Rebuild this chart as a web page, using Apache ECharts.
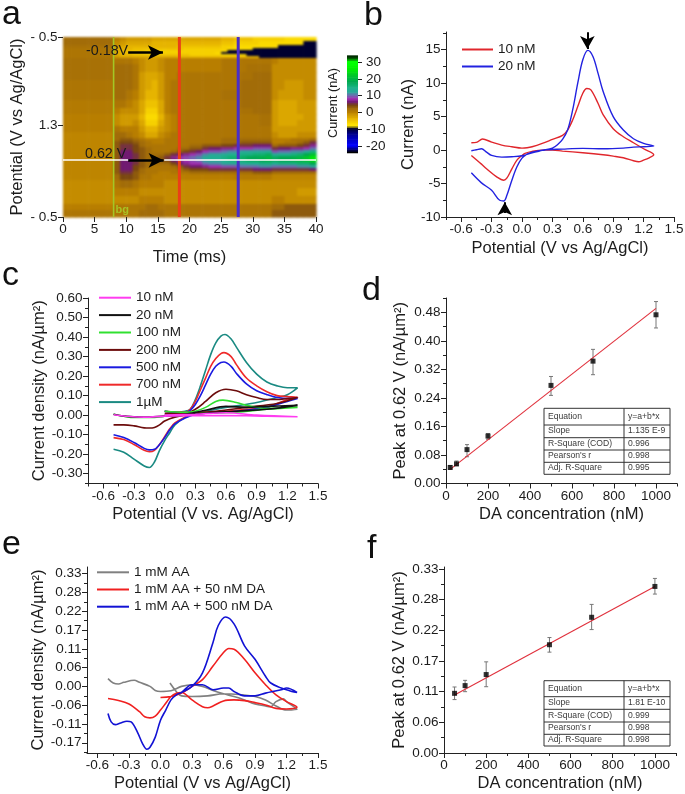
<!DOCTYPE html>
<html><head><meta charset="utf-8">
<style>html,body{margin:0;padding:0;background:#fff}
#heat,#c{position:absolute;left:0;top:0;width:685px;height:794px}
#heat{filter:blur(1.2px)}</style>
<script src="https://cdn.jsdelivr.net/npm/echarts@6/dist/echarts.min.js"></script>
</head><body><div id="heat"></div><div id="c"></div>
<script>
// ---------- panel a: time / sweep-position / current table ----------
const sweepEdges=[0,.08,.16,.22,.26,.30,.34,.38,.42,.54,.70,.86,1.06,1.26,1.42,1.54,1.66,1.78,1.90,2.02,2.08,2.14,2.20,2.26,2.32,2.38,2.44,2.50,2.56,2.62,2.68,2.74,2.86,3.02,3.18,3.34,3.46,3.60];
const currentTable=[
[2,2,2,2,2,2,2,2,0,-1,-2,-2,-2,-2,-3,-3,-3,-3,-3,-3,-3,-3,-3,-3,-3,-4,-4,-5,-5,-5,-6,-6,-6,-6,-6,-7,-7,-7,-7,-7],
[2,2,2,2,2,2,2,2,-1,-2,-3,-3,-3,-3,-4,-4,-4,-4,-4,-4,-4,-4,-4,-4,-4,-5,-5,-6,-6,-6,-6,-7,-7,-7,-7,-7,-7,-7,-10,-10],
[1.5,1.5,1.5,1.5,1.5,1.5,1.5,1.5,-2,-3,-4,-4,-4,-4,-4,-4,-4,-4,-5,-5,-5,-5,-5,-5,-5,-6,-6,-7,-7,-7,-7,-7,-7,-7,-10,-10,-10,-10,-10,-10],
[1,1,1,1,1,1,1,1,-3,-4,-4,-5,-5,-5,-5,-5,-5,-5,-5,-6,-6,-6,-6,-6,-6,-6,-7,-7,-7,-7,-10,-10,-10,-10,-10,-10,-10,-10,-10,-10],
[1,1,1,1,1,1,1,1,-3,-4,-5,-5,-5,-6,-6,-6,-6,-6,-6,-6,-6,-6,-6,-6,-6,-7,-10,-10,-10,-10,-10,-10,-10,-10,-10,-10,-10,-10,-10,-10],
[1,1,1,1,1,1,1,1,-3,-4,-5,-5,-5,-6,-6,-6,-6,-6,-6,-6,-6,-6,-6,-6,-7,-10,-10,-10,-10,-10,-10,-10,-10,-10,-10,-10,-10,-10,-10,-10],
[1,1,1,1,1,1,1,1,-3,-4,-4,-5,-5,-5,-5,-5,-5,-5,-5,-5,-6,-6,-6,-6,-6,-7,-7,-7,-7,-10,-10,-10,-10,-10,-10,-10,-10,-10,-10,-10],
[1,1,1,1,1,1,1,1,-2,-3,-3,-3,-3,-3,-3,-3,-3,-3,-4,-4,-4,-4,-4,-4,-4,-4,-4,-4,-4,-4,-4,-10,-10,-10,-10,-10,-10,-10,-10,-10],
[1.5,1.5,1.5,1.5,1.5,1.5,1.5,1.5,1,1,1,0,-1,-2,-2,-1,0,0,0,0,0,0,0,0,0,1,1,1,1,1,1,1,1,0,-1,-1,-1,-1,-1,-1],
[1.5,1.5,1.5,1.5,1.5,1.5,1.5,1.5,2,2,2,1,-1,-2,-2,-1,0,0,0,0,0,0,0,0,0,1,1,1,1,1.5,1.5,1.5,1.5,-1,-1,-1,-1,-1,-1,-1],
[1.5,1.5,1.5,1.5,1.5,1.5,1.5,1.5,2,2,2,1,-2,-3,-3,-2,0,0,1,1,1,1,1,1,1,1,1,1,1.5,1.5,2,2,2,-1,-1,-1,-1,-1,-1,-1],
[1,1,1,1,1,1,1,1,2,2,2,1,-2,-3,-4,-2,0,1,1,1,1,1,1,1,1,1,1,1,2,2,2,2,2,-1,-1,-2,-2,-2,-1,-1],
[1,1,1,1,1,1,1,1,2,2,1,0,-2,-4,-4,-2,0,1,1,1,1,1,1,1,1,1.5,1.5,1.5,2,2,2,2,2,-1,-2,-2,-2,-2,-1,-1],
[.5,.5,.5,.5,.5,.5,.5,.5,1,1,0,-1,-3,-5,-5,-3,0,1,1,1,1,1,1,1,1,1,1,1,2,2,2,2,2,-2,-3,-3,-3,-2,-2,-2],
[.5,.5,.5,.5,.5,.5,.5,.5,0,-1,-1,-1,-3,-6,-6,-3,0,1,1,1,1,1,1,1,1,1,1,1,1.5,1.5,2,2,2,-2,-3,-3,-3,-2,-2,-2],
[0,0,0,0,0,0,0,0,-1,-2,-2,-2,-4,-7,-7,-4,-1,0,1,1,1,1,1,1,1,1,1,1,1,1,1,1.5,1.5,-2,-3,-3,-3,-3,-2,-2],
[0,0,0,0,0,0,0,0,-1,-2,-2,-1,-3,-6,-6,-3,-1,0,1,1,1,1,1,1,1,1,1,1,1,1,1,1.5,1.5,-2,-3,-3,-3,-2,-2,-2],
[0,0,0,0,0,0,0,0,1,0,0,0,-2,-4,-4,-2,-1,0,1,1,1,1,1,1,1,1,1,1,1,1,1,1,1,-2,-2,-2,-2,-2,-2,-2],
[-.5,-.5,-.5,-.5,-.5,-.5,-.5,-.5,2,2,1,0,-1,-3,-3,-1,0,1,1,1,1,1,1,1,1,1,1,1,1,1,1,1,1,-1,-2,-2,-2,-1,-1,-1],
[-.5,-.5,-.5,-.5,-.5,-.5,-.5,-.5,2,3,3,2,1,0,0,0,1,1,1,1,1,1,1,1,1,2,2,2,2,2,2,2,2,0,0,0,1,1,1,2],
[-.5,-.5,-.5,-.5,-.5,-.5,-.5,-.5,3,4,4,3,2,1,0,0,1,1,1,1,1,1,1,1,1,2,2,2,3,3,3,3,3,0,0,1,1,2,3,5],
[-.5,-.5,-.5,-.5,-.5,-.5,-.5,-.5,3,5,5,4,2,1,1,1,1,1,1,1,2,2,3,3,3,4,4,5,5,5,6,6,6,2,3,3,3,4,5,7],
[-.5,-.5,-.5,-.5,-.5,-.5,-.5,-.5,3,5,5,4,3,2,1,1,1,1,2,2,3,3,5,6,6,7,7,8,8,8,9,9,9,5,6,6,7,7,8,10],
[-.5,-.5,-.5,-.5,-.5,-.5,-.5,-.5,3,6,6,4,3,2,1,1,1,2,3,4,5,6,8,9,9,10,11,11,12,12,12,12,13,9,10,10,11,11,12,15],
[-.5,-.5,-.5,-.5,-.5,-.5,-.5,-.5,3,6,6,5,3,2,2,2,3,5,6,7,8,9,11,12,12,13,14,14,15,15,16,16,17,13,14,14,15,16,18,21],
[-.5,-.5,-.5,-.5,-.5,-.5,-.5,-.5,3,6,6,5,3,2,2,3,5,7,8,9,10,11,13,14,14,15,16,16,17,18,18,19,20,17,18,18,19,20,22,25],
[-.5,-.5,-.5,-.5,-.5,-.5,-.5,-.5,3,6,6,5,3,2,2,3,4,6,7,8,9,10,12,13,13,14,15,15,16,17,17,18,19,17,18,18,19,20,21,24],
[-.5,-.5,-.5,-.5,-.5,-.5,-.5,-.5,3,6,6,5,3,2,2,2,2,4,6,7,8,8,10,11,11,12,12,13,13,14,14,15,15,14,15,15,15,16,16,18],
[-.5,-.5,-.5,-.5,-.5,-.5,-.5,-.5,3,6,6,4,3,2,1,1,1,2,3,5,6,6,7,8,8,9,9,9,10,10,10,11,11,10,10,10,10,11,11,12],
[-.5,-.5,-.5,-.5,-.5,-.5,-.5,-.5,3,6,6,4,2,1,1,1,1,1,2,3,4,4,4,5,5,5,5,5,5,5,6,6,6,5,5,5,5,5,5,6],
[-.5,-.5,-.5,-.5,-.5,-.5,-.5,-.5,3,5,5,3,2,1,1,0,0,1,1,1,2,2,2,2,2,2,2,2,2,2,3,3,3,2,2,2,2,2,2,2],
[-.5,-.5,-.5,-.5,-.5,-.5,-.5,-.5,2,4,4,3,1,1,0,0,0,0,0,0,0,0,0,0,0,0,0,.5,.5,.5,.5,.5,.5,-.5,-.5,-.5,-.5,-.5,-.5,-.5],
[-1,-1,-1,-1,-1,-1,-1,-1,1,2,2,1,0,0,0,0,-1,-1,-1,-1,-1,-1,-1,-1,-1,-1,-1,-1,-1,-1,-1,-1,-1,-1,-1,-1,-1,-1,-1,-1],
[-1,-1,-1,-1,-1,-1,-1,-1,0,0,0,0,-1,-1,-1,-1,-1,-1,-1,-1,-1,-1,-1,-1,-1,-1,-1,-1,-1,-1,-1,-1,-1,-1,-1,-1,-1,-2,-2,-2],
[-1,-1,-1,-1,-1,-1,-1,-1,-1,-1,-1,-1,0,0,0,0,-1,-1,-1,-1,-1,-1,-1,-1,-1,-1,-1,-1,-1,-1,-1,-1,-1,0,0,-1,-1,-1,-1,-1],
[0,0,0,0,0,0,0,0,1,1,1,1,1,2,2,1,1,1,1,1,1,1,1,1,1,1,1,1,1,1,1,1,1,2,2,3,3,3,3,3],
[1,1,1,1,1,1,1,1,1,1,1,1,2,2,2,2,1,1,1,1,1,1,1,1,1,1,1,1,1,1,1,1,1,3,3,3,3,3,3,3]];
const colorbarValues=[-24,-23,-22,-21,-20,-19,-18,-17,-16,-15,-14,-13,-12,-11,-10,-9,-8,-7,-6,-5,-4,-3,-2,-1,0,1,2,3,4,5,6,7,8,9,10,11,12,13,14,15,16,17,18,19,20,21,22,23,24,25,26,27,28,29,30,31,32,33];
const colorbarTicks=[30,20,10,0,-10,-20];
const currentColors=['#000000','#00008a','#0000ff','#0000e0','#0000c0','#0000a0','#000070','#000030','#ffe400','#f6d000','#e6b400','#d09a00','#b87e00','#a26c08','#7a4810','#701a70','#a030b0','#6a70b0','#2aa898','#20b090','#10b070','#00a850','#00b840','#00c828','#00e010','#00f000','#00ff00','#00ff00','#005a00','#000000'];
const aTimeTicks=[0,5,10,15,20,25,30,35,40];
const aSweepTicks=[0,1.76,3.6];
const aSweepLabels=['- 0.5','1.3','- 0.5'];
const markerBg=8, markerRed=18.4, markerBlue=27.7, sweepAt062=2.46;

// ---------- panel b ----------
const b10nM=[[-.5,1.1],[-.45,1.15],[-.39,1.65],[-.3,1.2],[-.2,.75],[-.1,.5],[0,.3],[.05,.35],[.1,.5],[.2,1],[.3,1.6],[.4,2.2],[.45,3],[.5,4.5],[.55,6.5],[.6,8.5],[.64,9.2],[.68,9],[.75,7],[.8,5.3],[.9,3.2],[1,2],[1.1,1.1],[1.2,.2],[1.3,-.7],[1.25,-1.2],[1.2,-1.5],[1.15,-1.75],[1.1,-1.6],[1,-1.15],[.9,-.9],[.8,-.7],[.6,-.4],[.4,-.15],[.3,0],[.2,0],[.1,-.2],[.03,-.5],[0,-.8],[-.05,-1.5],[-.1,-2.8],[-.15,-4.2],[-.18,-4.5],[-.25,-4],[-.35,-2.8],[-.4,-2.1],[-.5,-.8]];
const b20nM=[[-.5,-.1],[-.45,.05],[-.4,.2],[-.35,-.3],[-.3,-.8],[-.2,-1.05],[-.1,-1],[0,-.85],[.1,-.4],[.2,-.05],[.3,.3],[.35,.8],[.4,1.6],[.45,3],[.5,6],[.55,10],[.6,13.5],[.65,14.9],[.7,14],[.75,11.5],[.8,8.8],[.9,5],[1,3],[1.1,1.7],[1.2,1],[1.3,.6],[1.2,.5],[1.1,.45],[1,.3],[.8,.2],[.6,.25],[.4,.15],[.2,0],[.1,-.3],[.05,-.6],[0,-1.2],[-.05,-2.5],[-.1,-4.5],[-.15,-6.8],[-.18,-7.6],[-.22,-7.5],[-.3,-6],[-.4,-4.9],[-.5,-3.4]];

// ---------- panel c ----------
const c1uM=[[0,.02],[.1,.015],[.2,.02],[.25,.03],[.3,.08],[.35,.15],[.4,.23],[.45,.31],[.5,.37],[.55,.405],[.59,.413],[.65,.39],[.7,.35],[.8,.27],[.9,.21],[1,.17],[1.1,.15],[1.2,.14],[1.3,.14],[1.2,.105],[1.1,.09],[.83,.058],[.6,.04],[.4,.02],[.3,.012],[.2,-.01],[.1,-.05],[.05,-.09],[0,-.13],[-.05,-.18],[-.1,-.24],[-.15,-.268],[-.2,-.26],[-.3,-.225],[-.4,-.19],[-.5,-.175]];
const c700nM=[[0,.02],[.2,.015],[.25,.03],[.3,.07],[.35,.13],[.4,.19],[.45,.25],[.5,.29],[.55,.315],[.58,.32],[.65,.3],[.7,.26],[.8,.19],[.9,.15],[1,.12],[1.1,.1],[1.2,.095],[1.3,.09],[1.2,.08],[1,.04],[.8,.03],[.6,.02],[.4,.015],[.3,.01],[.2,-.01],[.1,-.04],[.05,-.07],[0,-.11],[-.05,-.15],[-.1,-.18],[-.15,-.187],[-.2,-.18],[-.3,-.15],[-.4,-.125],[-.5,-.115]];
const c500nM=[[0,.02],[.2,.012],[.25,.025],[.3,.055],[.35,.1],[.4,.155],[.45,.21],[.5,.25],[.55,.27],[.58,.272],[.65,.25],[.7,.215],[.8,.16],[.9,.125],[1,.105],[1.1,.09],[1.2,.085],[1.3,.085],[1.2,.07],[1,.04],[.8,.025],[.6,.015],[.4,.01],[.3,.005],[.2,-.015],[.1,-.045],[.05,-.075],[0,-.115],[-.05,-.15],[-.1,-.175],[-.15,-.178],[-.2,-.17],[-.3,-.14],[-.4,-.115],[-.5,-.1]];
const c200nM=[[0,.01],[.2,.01],[.3,.03],[.4,.07],[.5,.115],[.6,.133],[.7,.125],[.8,.105],[.9,.09],[1,.08],[1.1,.08],[1.2,.085],[1.3,.09],[1.1,.06],[.8,.04],[.5,.02],[.3,.01],[.1,-.01],[0,-.03],[-.05,-.05],[-.1,-.063],[-.15,-.066],[-.2,-.065],[-.3,-.055],[-.4,-.05],[-.5,-.05]];
const c100nM=[[0,.02],[.2,.015],[.3,.02],[.4,.04],[.5,.07],[.57,.077],[.7,.065],[.8,.05],[.9,.04],[1,.035],[1.3,.04],[1,.03],[.7,.015],[.4,.01],[.2,0],[0,-.005],[-.1,-.012],[-.3,-.012],[-.4,-.005],[-.5,.005]];
const c20nM=[[0,0],[.2,.005],[.4,.025],[.6,.045],[.8,.04],[1,.045],[1.3,.05],[1,.03],[.7,.02],[.4,.01],[.2,0],[0,-.005],[-.2,-.01],[-.4,-.005],[-.5,.005]];
const c10nM=[[0,0],[.3,.005],[.6,.012],[.9,0],[1.3,-.008],[1,-.005],[.6,-.002],[.3,-.003],[0,-.005],[-.2,-.01],[-.4,-.004],[-.5,.002]];

// ---------- panel d ----------
const dConc=[20,50,100,200,500,700,1000];
const dPeak=[.045,.055,.095,.133,.275,.343,.473];
const dLow=[.04,.05,.075,.124,.247,.305,.436];
const dHigh=[.05,.063,.109,.14,.30,.376,.51];
const dFit=[[20,.0395],[1000,.491]];
const dTable=[['Equation','y=a+b*x'],['Slope','1.135 E-9'],['R-Square (COD)','0.996'],["Pearson's r",'0.998'],['Adj. R-Square','0.995']];

// ---------- panel e ----------
const eAA=[[.09,.01],[.15,-.015],[.2,-.028],[.3,-.03],[.45,-.028],[.6,-.022],[.75,-.024],[.9,-.03],[1,-.04],[1.1,-.058],[1.2,-.07],[1.3,-.068],[1.2,-.045],[1.17,-.037],[1.1,-.045],[1.05,-.06],[1,-.058],[.9,-.052],[.8,-.04],[.7,-.03],[.6,-.022],[.5,-.012],[.4,0],[.3,.005],[.2,0],[.1,-.013],[0,-.015],[-.05,-.012],[-.1,0],[-.2,.012],[-.25,.018],[-.35,.012],[-.4,.007],[-.45,.01],[-.5,.023]];
const eDA50=[[0,-.033],[.1,-.03],[.2,-.02],[.3,0],[.4,.02],[.5,.06],[.6,.1],[.65,.112],[.7,.11],[.8,.08],[.9,.04],[1,.005],[1.1,-.025],[1.2,-.045],[1.3,-.062],[1.2,-.067],[1.1,-.065],[1,-.055],[.9,-.048],[.8,-.042],[.7,-.04],[.6,-.043],[.5,-.058],[.45,-.063],[.4,-.06],[.3,-.04],[.2,-.018],[.15,-.02],[.1,-.03],[.05,-.05],[0,-.07],[-.05,-.088],[-.1,-.093],[-.15,-.09],[-.2,-.075],[-.3,-.052],[-.4,-.042],[-.5,-.036]];
const eDA500=[[.2,-.018],[.3,0],[.4,.04],[.5,.13],[.55,.18],[.62,.205],[.7,.185],[.8,.12],[.9,.08],[1,.03],[1.05,.01],[1.15,-.005],[1.2,-.01],[1.25,-.015],[1.3,-.018],[1.2,-.005],[1.15,-.01],[1,-.02],[.9,-.028],[.8,-.028],[.7,-.015],[.65,-.005],[.6,-.005],[.5,-.01],[.4,.005],[.3,.005],[.2,-.018],[.15,-.025],[.1,-.04],[.05,-.07],[0,-.1],[-.05,-.15],[-.1,-.18],[-.13,-.186],[-.17,-.17],[-.22,-.135],[-.28,-.105],[-.32,-.103],[-.38,-.108],[-.43,-.113],[-.47,-.105],[-.5,-.08]];

// ---------- panel f ----------
const fConc=[50,100,200,500,700,1000];
const fPeak=[.108,.122,.142,.196,.2457,.3015];
const fLow=[.0967,.111,.12,.1826,.2234,.2877];
const fHigh=[.1195,.1315,.165,.209,.269,.316];
const fFit=[[50,.105],[1000,.3015]];
const fTable=[['Equation','y=a+b*x'],['Slope','1.81 E-10'],['R-Square (COD)','0.999'],["Pearson's r",'0.998'],['Adj. R-Square','0.998']];

// ---------- tick lists ----------
const cvTicks=[-.6,-.3,0,.3,.6,.9,1.2,1.5];
const cvMinor=[-.75,-.45,-.15,.15,.45,.75,1.05,1.35];
const bY=[-10,-5,0,5,10,15], bYMinor=[-7.5,-2.5,2.5,7.5,12.5,17.5];
const cY=[-.3,-.2,-.1,0,.1,.2,.3,.4,.5,.6], cYMinor=[-.35,-.25,-.15,-.05,.05,.15,.25,.35,.45,.55];
const concTicks=[0,200,400,600,800,1000], concMinor=[100,300,500,700,900,1100];
const dY=[0,.08,.16,.24,.32,.4,.48], dYMinor=[.04,.12,.2,.28,.36,.44,.52];
const ninthY=[-.1667,-.1111,-.0556,0,.0556,.1111,.1667,.2222,.2778,.3333];
const ninthYMinor=[-.1944,-.1389,-.0833,-.0278,.0278,.0833,.1389,.1944,.25,.3056];
const fY=[0,.0556,.1111,.1667,.2222,.2778,.3333], fYMinor=[.0278,.0833,.1389,.1944,.25,.3056];

// ---------- legends ----------
const bNames=['10 nM','20 nM'];
const cNames=['10 nM','20 nM','100 nM','200 nM','500 nM','700 nM','1µM'];
const eNames=['1 mM AA','1 mM AA + 50 nM DA','1 mM AA + 500 nM DA'];

const FONT='"Liberation Sans",Arial,sans-serif', INK='#1c1c1c';
const grids=[],xAxes=[],yAxes=[],series=[],legends=[],graphics=[];
function addGrid(l,t,w,h){grids.push({left:l,top:t,width:w,height:h,show:false,outerBoundsMode:'none'});return grids.length-1;}
function axisBase(g,min,max,ticks,fmt,name,gap,opt){
  return Object.assign({type:'value',gridIndex:g,min,max,silent:true,splitLine:{show:false},
    axisLine:{show:true,onZero:false,lineStyle:{color:'#222',width:1}},
    axisTick:{show:true,length:5,inside:false,customValues:ticks,lineStyle:{color:'#222',width:1}},
    axisLabel:{show:true,customValues:ticks,formatter:fmt,fontFamily:FONT,fontSize:13.5,color:INK,margin:5.5,hideOverlap:false},
    name,nameLocation:'middle',nameGap:gap,nameTextStyle:{fontFamily:FONT,fontSize:16.5,color:INK}},opt||{});
}
function minorAxis(g,min,max,ticks){
  return {type:'value',gridIndex:g,min,max,silent:true,splitLine:{show:false},axisLine:{show:false,onZero:false},
    axisTick:{show:true,length:3,customValues:ticks,lineStyle:{color:'#222',width:1}},axisLabel:{show:false,customValues:ticks}};
}
function panel(g,xr,xt,xm,xf,xn,xg,yr,yt,ym,yf,yn,yg){
  const xi=xAxes.length,yi=yAxes.length;
  xAxes.push(axisBase(g,xr[0],xr[1],xt,xf,xn,xg,{position:'bottom'}));
  xAxes.push(Object.assign(minorAxis(g,xr[0],xr[1],xm),{position:'bottom'}));
  yAxes.push(axisBase(g,yr[0],yr[1],yt,yf,yn,yg,{position:'left'}));
  yAxes.push(Object.assign(minorAxis(g,yr[0],yr[1],ym),{position:'left'}));
  return {xi,yi};
}
const f1=v=>v.toFixed(1), f2=v=>v.toFixed(2), f0=v=>String(Math.round(v));
function curve(ax,name,data,color,w){
  series.push({type:'line',name,data,xAxisIndex:ax.xi,yAxisIndex:ax.yi,symbol:'none',smooth:.35,animation:false,silent:true,
    lineStyle:{color,width:w||1.6},itemStyle:{color}});
}
function legend(prefix,names,left,top,gap,w){
  legends.push({show:true,data:names.map(n=>prefix+n),orient:'vertical',left,top,itemWidth:w,itemHeight:14,itemGap:gap,itemStyle:{opacity:0},selectedMode:false,
    formatter:n=>n.slice(prefix.length),textStyle:{fontFamily:FONT,fontSize:13.5,color:INK},padding:0});
}
function letter(t,x,y){graphics.push({type:'text',left:x,top:y,silent:true,style:{text:t,font:'34px '+FONT,fill:'#111'}});}
function note(t,x,y,font,fill){graphics.push({type:'text',left:x,top:y,silent:true,z:20,style:{text:t,font,fill}});}
function arrow(ax,from,to,width,size){
  series.push({type:'line',data:[],xAxisIndex:ax.xi,yAxisIndex:ax.yi,silent:true,animation:false,z:8,
    markLine:{silent:true,animation:false,symbol:['none','arrow'],symbolSize:size,label:{show:false},lineStyle:{color:'#000',width,type:'solid'},
      data:[[{coord:from},{coord:to}]]}});
}
function table(rows,l,r,div,edges){
  const ln=(x1,y1,x2,y2)=>graphics.push({type:'line',silent:true,shape:{x1,y1,x2,y2},style:{stroke:'#333',lineWidth:1}});
  edges.forEach(y=>ln(l,y,r,y)); [l,div,r].forEach(x=>ln(x,edges[0],x,edges[edges.length-1]));
  rows.forEach((row,i)=>{const cy=(edges[i]+edges[i+1])/2-5;
    note(row[0],l+4,cy,'8.6px '+FONT,'#3a3a3a'); note(row[1],div+4,cy,'8.6px '+FONT,'#3a3a3a');});
}
function scatterFit(ax,conc,peak,low,high,fit){
  series.push({type:'custom',xAxisIndex:ax.xi,yAxisIndex:ax.yi,silent:true,animation:false,data:conc.map((c,i)=>[c,low[i],high[i]]),encode:{x:0,y:[1,2]},
    renderItem:(p,api)=>{const a=api.coord([api.value(0),api.value(1)]),b=api.coord([api.value(0),api.value(2)]);
      const s={stroke:'#777',lineWidth:1};
      return {type:'group',children:[
        {type:'line',shape:{x1:a[0],y1:a[1],x2:b[0],y2:b[1]},style:s},
        {type:'line',shape:{x1:a[0]-2,y1:a[1],x2:a[0]+2,y2:a[1]},style:s},
        {type:'line',shape:{x1:b[0]-2,y1:b[1],x2:b[0]+2,y2:b[1]},style:s}]};}});
  series.push({type:'line',data:fit,xAxisIndex:ax.xi,yAxisIndex:ax.yi,symbol:'none',silent:true,animation:false,lineStyle:{color:'#e0303c',width:1.1}});
  series.push({type:'scatter',data:conc.map((c,i)=>[c,peak[i]]),xAxisIndex:ax.xi,yAxisIndex:ax.yi,symbol:'rect',symbolSize:5,silent:true,animation:false,itemStyle:{color:'#000'},z:5});
}

// ---------- soft colour layer: heat map ----------
const heatData=[];
currentTable.forEach((row,r)=>row.forEach((v,t)=>heatData.push([t,r,v])));
const heatChart=echarts.init(document.getElementById('heat'),null,{renderer:'canvas'});
heatChart.setOption({animation:false,
  grid:[{left:63,top:37,width:253,height:180,show:false,outerBoundsMode:'none'}],
  xAxis:[{type:'value',gridIndex:0,min:0,max:40,show:false}],
  yAxis:[{type:'value',gridIndex:0,min:0,max:3.6,inverse:true,show:false}],
  visualMap:{show:false,type:'continuous',min:-24,max:34,dimension:2,seriesIndex:0,inRange:{color:currentColors}},
  series:[
   {type:'custom',xAxisIndex:0,yAxisIndex:0,data:heatData,encode:{x:0,y:1},silent:true,animation:false,
    renderItem:(p,api)=>{const t=api.value(0),r=api.value(1);
      const a=api.coord([t,sweepEdges[r]]),b=api.coord([t+1,sweepEdges[r+1]]);
      return {type:'rect',shape:{x:a[0],y:a[1],width:b[0]-a[0]+.6,height:b[1]-a[1]+.6},style:{fill:api.visual('color')}};}}
  ]});

// colour bar (series index 0 of the main chart)
const gBar=addGrid(347,56,11,97);
const axBar={xi:xAxes.length,yi:yAxes.length};
xAxes.push({type:'value',gridIndex:gBar,min:0,max:1,show:false});
yAxes.push({type:'value',gridIndex:gBar,min:-24.2,max:33.6,position:'right',silent:true,splitLine:{show:false},
  axisLine:{show:false,onZero:false},axisTick:{show:true,length:4,customValues:colorbarTicks,lineStyle:{color:'#222'}},
  axisLabel:{customValues:colorbarTicks,formatter:f0,fontFamily:FONT,fontSize:13.5,color:INK,margin:8,hideOverlap:false}});
series.push({type:'custom',xAxisIndex:axBar.xi,yAxisIndex:axBar.yi,data:colorbarValues.map(v=>[0,v,v]),encode:{x:0,y:1},silent:true,animation:false,
  renderItem:(p,api)=>{const a=api.coord([0,api.value(1)+1]),b=api.coord([1,api.value(1)]);
    return {type:'rect',shape:{x:a[0],y:a[1],width:b[0]-a[0],height:b[1]-a[1]+.6},style:{fill:api.visual('color')}};}});

// panel a (axes and markers)
const gA=addGrid(63,37,253,180);
const axA={xi:xAxes.length,yi:yAxes.length};
xAxes.push(axisBase(gA,0,40,aTimeTicks,f0,'Time (ms)',32,{position:'bottom',axisLine:{show:false,onZero:false}}));
yAxes.push(axisBase(gA,0,3.6,aSweepTicks,v=>aSweepLabels[aSweepTicks.indexOf(v)],'Potential (V vs Ag/AgCl)',37,{position:'left',inverse:true,axisLine:{show:false,onZero:false}}));
[[markerBg,'#a4c626',1.6],[markerRed,'#ea3f17',3],[markerBlue,'#4a2ec8',3]].forEach(m=>
  series.push({type:'line',data:[[m[0],0],[m[0],3.6]],xAxisIndex:axA.xi,yAxisIndex:axA.yi,symbol:'none',silent:true,animation:false,z:6,lineStyle:{color:m[1],width:m[2]}}));
[[0,10.3],[16,40]].forEach(seg=>
  series.push({type:'line',data:[[seg[0],sweepAt062],[seg[1],sweepAt062]],xAxisIndex:axA.xi,yAxisIndex:axA.yi,symbol:'none',silent:true,animation:false,z:6,lineStyle:{color:'#fff',width:1.4}}));
arrow(axA,[10.3,.31],[15.8,.31],2.6,[11,15]);
arrow(axA,[10.3,2.466],[15.9,2.466],2.6,[11,15]);
note('-0.18V',86,44,'14.3px '+FONT,'#1a1a1a');
note('0.62 V',85,147,'14.3px '+FONT,'#1a1a1a');
note('bg',115.5,204,'bold 11px '+FONT,'#a8c224');
graphics.push({type:'text',x:333,y:103,rotation:Math.PI/2,silent:true,style:{text:'Current (nA)',font:'12.7px '+FONT,fill:INK,align:'center',verticalAlign:'middle'}});

// panel b
const axB=panel(addGrid(446,32,228,185),[-.75,1.5],cvTicks,cvMinor,f1,'Potential (V vs Ag/AgCl)',23,[-10,17.65],bY,bYMinor,f0,'Current (nA)',25);
curve(axB,'b:10 nM',b10nM,'#e0262c',1.4); curve(axB,'b:20 nM',b20nM,'#2222e0',1.4);
legend('b:',bNames,461,42.5,3,31);
arrow(axB,[.645,17.6],[.645,15.1],2,[11,13]);
arrow(axB,[-.17,-9.4],[-.17,-7.8],2,[11,13]);

// panel c
const axC=panel(addGrid(88,298,230,185.5),[-.75,1.5],cvTicks,cvMinor,f1,'Potential (V vs. Ag/AgCl)',22,[-.35,.6],cY,cYMinor,f2,'Current density (nA/µm²)',36);
curve(axC,'c:1µM',c1uM,'#1a8a82'); curve(axC,'c:700 nM',c700nM,'#ef2a2a'); curve(axC,'c:500 nM',c500nM,'#1a1ae0');
curve(axC,'c:200 nM',c200nM,'#6c0c0c'); curve(axC,'c:100 nM',c100nM,'#30e030'); curve(axC,'c:20 nM',c20nM,'#111111'); curve(axC,'c:10 nM',c10nM,'#ff3cf0');
legend('c:',cNames,98,290.7,3.4,32);

// panel d
const axD=panel(addGrid(446,298,231,185.5),[0,1100],concTicks,concMinor,f0,'DA concentration (nM)',22,[0,.52],dY,dYMinor,f2,'Peak at 0.62 V (nA/µm²)',37);
scatterFit(axD,dConc,dPeak,dLow,dHigh,dFit);
table(dTable,544,670,624,[408.3,425,437.7,450,462.3,474.3]);

// panel e
const axE=panel(addGrid(87,567,231,186),[-.7,1.5],cvTicks,cvMinor,f1,'Potential (V vs Ag/AgCl)',22,[-.197,.353],ninthY,ninthYMinor,f2,'Current density (nA/µm²)',38);
curve(axE,'e:1 mM AA',eAA,'#808080'); curve(axE,'e:1 mM AA + 50 nM DA',eDA50,'#f02020'); curve(axE,'e:1 mM AA + 500 nM DA',eDA500,'#1212d4');
legend('e:',eNames,96,565.3,3.2,32);

// panel f
const axF=panel(addGrid(444,567,232,186),[0,1100],concTicks,concMinor,f0,'DA concentration (nM)',22,[0,.3367],fY,fYMinor,f2,'Peak at 0.62 V (nA/µm²)',33);
scatterFit(axF,fConc,fPeak,fLow,fHigh,fFit);
table(fTable,544,670,624,[680.7,696.7,709.3,722,734.3,746]);

letter('a',2,-2); letter('b',364,-1); letter('c',2,259); letter('d',362,274); letter('e',2,528); letter('f',367,532);

const chart=echarts.init(document.getElementById('c'),null,{renderer:'canvas'});
chart.setOption({animation:false,backgroundColor:'transparent',grid:grids,xAxis:xAxes,yAxis:yAxes,legend:legends,series,
  visualMap:{show:false,type:'continuous',min:-24,max:34,dimension:2,seriesIndex:0,inRange:{color:currentColors}},
  graphic:{elements:graphics}});
</script></body></html>
